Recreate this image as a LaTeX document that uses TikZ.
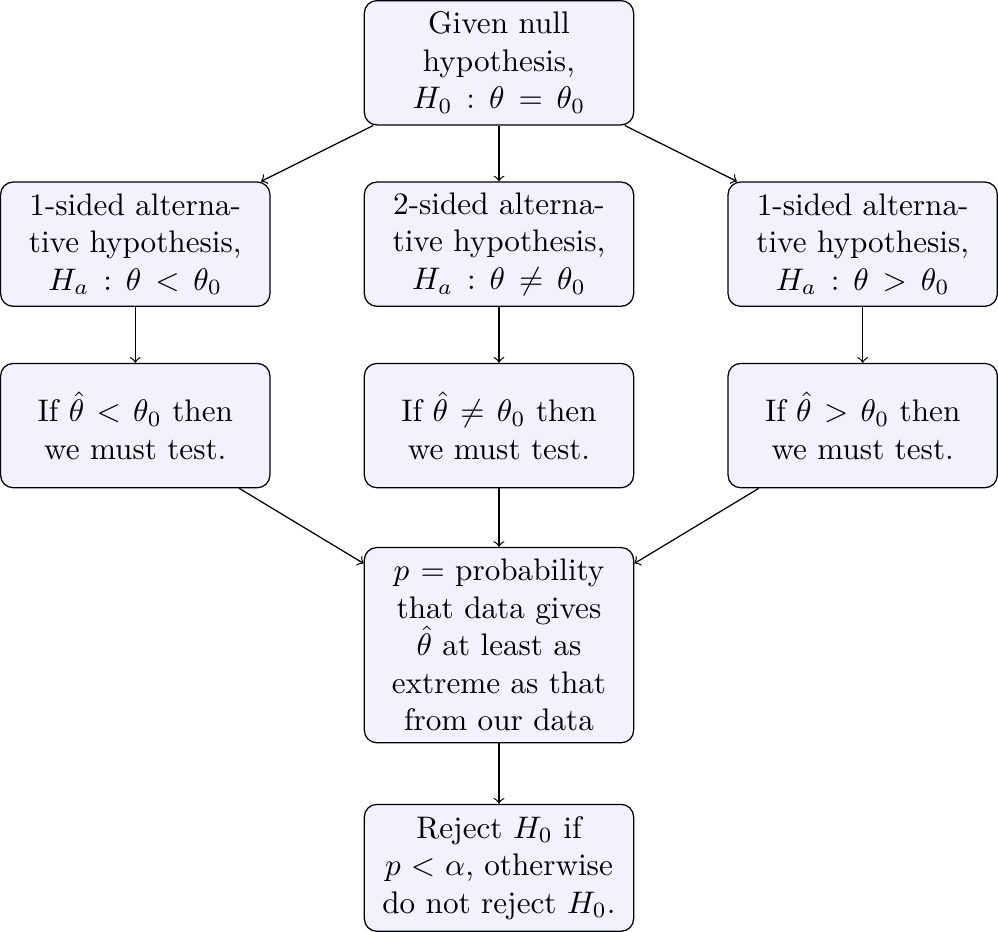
\documentclass[tikz,border=0pt]{standalone}
\usepackage{amsmath,amssymb}
\usepackage{xcolor}
\usepackage{tikz}
\usetikzlibrary{positioning}

\begin{document}
\begin{tikzpicture}[
        stepbox/.style = {rectangle, draw, fill = blue!5, rounded corners,
          text width = 2.8cm, minimum height = 1.4cm, align = center},
        arrow/.style = {->},
        node distance = 0.63cm and 1.05cm
      ]
        \node[stepbox] (null) {Given null hypothesis, $H_0 : \theta = \theta_0$};
        \node[stepbox, below = of null] (twoalt)
          {2-sided alternative hypothesis, $H_a : \theta \neq \theta_0$};
        \node[stepbox, left = of twoalt] (lessalt)
          {1-sided alternative hypothesis, $H_a : \theta < \theta_0$};
        \node[stepbox, right = of twoalt] (moralt)
          {1-sided alternative hypothesis, $H_a : \theta > \theta_0$};
        \node[stepbox, below = of twoalt] (twotest)
          {If $\hat{\theta} \neq \theta_0$ then we must test.};
        \node[stepbox, below = of lessalt] (lesstest)
          {If $\hat{\theta} < \theta_0$ then we must test.};
        \node[stepbox, below = of moralt] (mortest)
          {If $\hat{\theta} > \theta_0$ then we must test.};
        \node[stepbox, below = 0.66cm of twotest, minimum height = 2.2cm] (pval)
          {$p =$ probability that data gives $\hat{\theta}$ at least as
            extreme as that from our data};
        \node[stepbox, below = 0.68cm of pval, minimum height = 1.43cm] (reject)
          {Reject $H_0$ if $p < \alpha$, otherwise do not reject $H_0$.};

        \draw[arrow] (null) -- (lessalt);
        \draw[arrow] (null) -- (twoalt);
        \draw[arrow] (null) -- (moralt);
        \draw[arrow] (lessalt) -- (lesstest);
        \draw[arrow] (twoalt) -- (twotest);
        \draw[arrow] (moralt) -- (mortest);
        \draw[arrow] (lesstest) -- (pval);
        \draw[arrow] (twotest) -- (pval);
        \draw[arrow] (mortest) -- (pval);
        \draw[arrow] (pval) -- (reject);
      \end{tikzpicture}
\end{document}
